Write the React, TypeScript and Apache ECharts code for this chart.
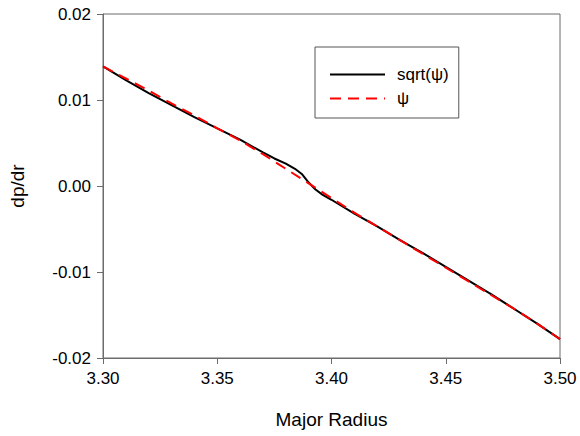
import React, { useEffect, useRef } from "react";
import * as echarts from "echarts";

const sqrtPsiX = [3.30, 3.31, 3.32, 3.33, 3.34, 3.35, 3.36, 3.37, 3.375, 3.38, 3.384, 3.387, 3.39, 3.393, 3.396, 3.40, 3.41, 3.42, 3.43, 3.44, 3.45, 3.46, 3.47, 3.48, 3.49, 3.50];
const sqrtPsiY = [0.0139, 0.0123, 0.0108, 0.0094, 0.0080, 0.0067, 0.0054, 0.0039, 0.0032, 0.0026, 0.0020, 0.0014, 0.0004, -0.0004, -0.0010, -0.0016, -0.0032, -0.0047, -0.0063, -0.0078, -0.0094, -0.0110, -0.0126, -0.0143, -0.0160, -0.0178];

const psiX = [3.30, 3.31, 3.32, 3.33, 3.34, 3.35, 3.36, 3.37, 3.38, 3.39, 3.40, 3.41, 3.42, 3.43, 3.44, 3.45, 3.46, 3.47, 3.48, 3.49, 3.50];
const psiY = [0.0139, 0.0125, 0.0111, 0.0096, 0.0082, 0.0067, 0.0053, 0.0037, 0.0020, 0.0003, -0.0014, -0.0031, -0.0047, -0.0063, -0.0079, -0.0095, -0.0111, -0.0127, -0.0143, -0.0160, -0.0178];

const seriesNames = ["sqrt(\u03c8)", "\u03c8"];
const xTicks = { min: 3.30, max: 3.50, interval: 0.05 };
const yTicks = { min: -0.02, max: 0.02, interval: 0.01 };

const font = "'Liberation Sans', Arial, sans-serif";

export default function App() {
  const ref = useRef<HTMLDivElement>(null);
  useEffect(() => {
    if (!ref.current) return;
    document.body.style.margin = "0";
    const chart = echarts.init(ref.current, null, { renderer: "svg" });
    const axisCommon = {
      axisLine: { show: true, onZero: false, lineStyle: { color: "#6b6b6b", width: 1 } },
      axisTick: { show: true, inside: false, length: 6, lineStyle: { color: "#6b6b6b" } },
      splitLine: { show: false },
      axisLabel: { color: "#000", fontSize: 17, fontFamily: font },
      nameTextStyle: { color: "#000", fontSize: 19, fontFamily: font },
    };
    chart.setOption({
      animation: false,
      backgroundColor: "#fff",
      grid: { left: 101, right: 20, top: 14, bottom: 78, show: true, borderColor: "#6b6b6b", borderWidth: 1 },
      xAxis: {
        type: "value",
        min: xTicks.min,
        max: xTicks.max,
        interval: xTicks.interval,
        name: "Major Radius",
        nameLocation: "middle",
        nameGap: 52,
        ...axisCommon,
        axisLabel: { ...axisCommon.axisLabel, margin: 12, formatter: (v: number) => v.toFixed(2) },
      },
      yAxis: {
        type: "value",
        min: yTicks.min,
        max: yTicks.max,
        interval: yTicks.interval,
        name: "dp/dr",
        nameLocation: "middle",
        nameGap: 76,
        nameRotate: 90,
        ...axisCommon,
        axisLabel: { ...axisCommon.axisLabel, margin: 12, formatter: (v: number) => v.toFixed(2) },
      },
      legend: {
        orient: "vertical",
        left: 315,
        top: 47,
        borderColor: "#555",
        borderWidth: 1,
        borderRadius: 0,
        padding: [19, 10, 11, 14],
        itemGap: 7,
        itemWidth: 55,
        itemHeight: 14,
        data: seriesNames,
        itemStyle: { color: "rgba(0,0,0,0)", borderColor: "rgba(0,0,0,0)", borderWidth: 0 },
        textStyle: { color: "#000", fontSize: 17, fontFamily: font, padding: [0, 0, 0, 7] },
      },
      series: [
        {
          name: seriesNames[0],
          type: "line",
          data: sqrtPsiX.map((x, i) => [x, sqrtPsiY[i]]),
          showSymbol: false,
          symbol: "none",
          lineStyle: { color: "#000", width: 2 },
          itemStyle: { color: "#000" },
          z: 2,
        },
        {
          name: seriesNames[1],
          type: "line",
          data: psiX.map((x, i) => [x, psiY[i]]),
          showSymbol: false,
          symbol: "none",
          lineStyle: { color: "#ff0000", width: 2, type: [11, 7] },
          itemStyle: { color: "#ff0000" },
          z: 3,
        },
      ],
    });
    return () => chart.dispose();
  }, []);
  return <div ref={ref} style={{ width: 580, height: 436 }} />;
}
